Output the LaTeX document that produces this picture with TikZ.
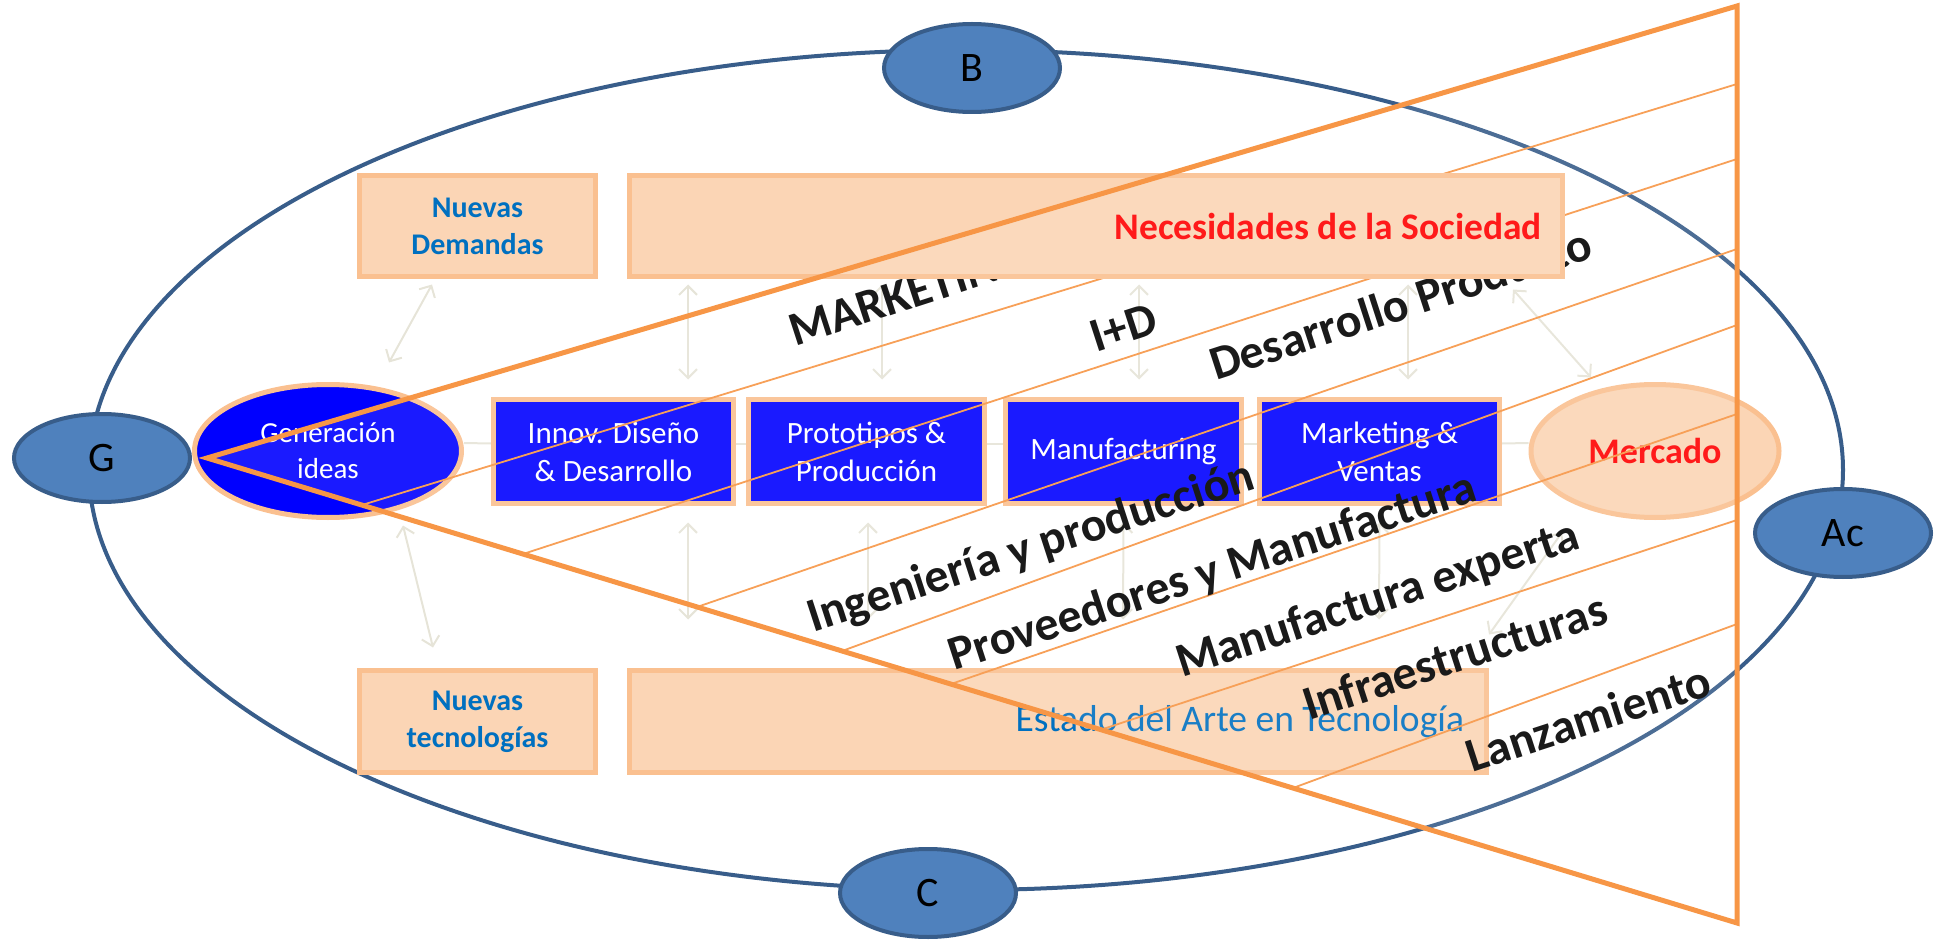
\documentclass[tikz,border=0pt]{standalone}
\usepackage{fontspec}
\setmainfont{Carlito}
\usetikzlibrary{shapes.geometric,arrows.meta,backgrounds}

\definecolor{steel}{HTML}{4F81BD}
\definecolor{steeldark}{HTML}{385D8A}
\definecolor{conecol}{HTML}{F79646}
\definecolor{peach}{HTML}{FBD5B5}
\definecolor{peachline}{HTML}{FAC090}
\definecolor{textblue}{HTML}{0070C0}
\definecolor{linkgray}{HTML}{E6E4D8}
\newcommand{\fsize}[2]{\fontsize{#1}{#2}\selectfont}

\begin{document}
\begin{tikzpicture}[x=1pt,y=-1pt,
		actor/.style={ellipse,draw=steeldark,line width=4pt,fill=steel,minimum width=176pt,minimum height=88pt,inner sep=0pt,font=\fsize{42}{50}},
		pbox/.style={draw=peachline,line width=5pt,fill=peach,inner sep=0pt,align=center},
		proc/.style={draw=peachline,line width=5pt,fill=blue,text=white,minimum height=104pt,inner sep=0pt,align=center,font=\fsize{31}{38}},
		link/.style={draw=linkgray,line width=2pt,{Straight Barb[length=9pt,width=18pt]}-{Straight Barb[length=9pt,width=18pt]}},
		flow/.style={draw=linkgray,line width=2pt},
		band/.style={draw=conecol,line width=1.8pt},
		stage/.style={rotate=18,anchor=base west,inner sep=0pt,font=\bfseries\fsize{48}{52}}]
		\useasboundingbox (0,0) rectangle (1939,941);
		% outer cycle
		\draw[steeldark,line width=4pt] (966,470) ellipse [x radius=877pt,y radius=420pt];
		\coordinate (apex) at (207,458);
		\coordinate (ctop) at (1737,6);
		\coordinate (cbot) at (1737,923);
		% lower boxes
		\node[pbox,minimum width=236pt,minimum height=102pt,font=\bfseries\fsize{30}{37},text=textblue] (nt) at (477.5,721.5) {Nuevas\\tecnologías};
		\node[pbox,minimum width=857pt,minimum height=102pt,font=\fsize{37.5}{40},text=textblue] (est) at (1058,721.5) {\makebox[812pt][r]{Estado del Arte en Tecnología}};
		% process chain
		\node[ellipse,draw=peachline,line width=5pt,fill=blue,text=white,minimum width=267pt,minimum height=133pt,inner sep=0pt,align=center,font=\fsize{29}{36}] (gen) at (328,451) {Generación\\ideas};
		\node[proc,minimum width=240pt] (innov) at (613.5,451.5) {Innov. Diseño\\\& Desarrollo};
		\node[proc,minimum width=236pt] (proto) at (866.5,451.5) {Prototipos \&\\Producción};
		\node[proc,minimum width=236pt] (manuf) at (1123.5,451.5) {Manufacturing};
		\node[proc,minimum width=240pt] (mkt) at (1379.5,451.5) {Marketing \&\\Ventas};
		\node[ellipse,draw=peachline,line width=5pt,fill=peach,text=red,minimum width=248pt,minimum height=133pt,inner sep=0pt,font=\bfseries\fsize{36}{40}] (mer) at (1655,451) {Mercado};
		% bands of the cone
		\foreach \sx/\sy/\ey in {362/505/84,523/554/159,697/607/249,842/651/325,951/684/414,1100/730/520,1293/788/624}
			\draw[band] (\sx,\sy) -- (1737,\ey);
		\node[stage] (mkting) at (795,347) {MARKETING};
		\node[stage] (imasd) at (1096,353) {I+D};
		\node[stage] (desprod) at (1216,381) {Desarrollo Producto};
		\node[stage] (ingprod) at (813,633) {Ingeniería y producción};
		\node[stage] (provman) at (954,671) {Proveedores y Manufactura};
		\node[stage] (manexp) at (1182,678) {Manufactura experta};
		\node[stage] (infra) at (1309,721) {Infraestructuras};
		\node[stage] (lanz) at (1472,773) {Lanzamiento};
		% upper boxes
		\node[pbox,minimum width=236pt,minimum height=101pt,font=\bfseries\fsize{30}{37},text=textblue] (nd) at (477.5,226) {Nuevas\\Demandas};
		\node[pbox,minimum width=933pt,minimum height=101pt,font=\bfseries\fsize{37.5}{40},text=red] (nec) at (1096,226) {\makebox[892pt][r]{Necesidades de la Sociedad}};
		% faint links
		\begin{scope}[on background layer]
			\draw[link] ([xshift=-45.5pt,yshift=-5.5pt]nd.south) -- ([xshift=61pt,yshift=19.5pt]gen.north);
			\draw[link] ([xshift=-408pt,yshift=-5.5pt]nec.south) -- ([xshift=74.5pt,yshift=17.5pt]innov.north);
			\draw[link] ([xshift=-214pt,yshift=-5.5pt]nec.south) -- ([xshift=15.5pt,yshift=17.5pt]proto.north);
			\draw[link] ([xshift=43pt,yshift=-5.5pt]nec.south) -- ([xshift=15.5pt,yshift=17.5pt]manuf.north);
			\draw[link] ([xshift=312pt,yshift=-5.5pt]nec.south) -- ([xshift=28.5pt,yshift=17.5pt]mkt.north);
			\draw[link] ([xshift=417pt,yshift=-10.5pt]nec.south) -- ([xshift=-64pt,yshift=4.5pt]mer.north);
			\draw[link] ([xshift=75pt,yshift=-5.5pt]gen.south) -- ([xshift=-44.5pt,yshift=20.5pt]nt.north);
			\draw[link] ([xshift=74.5pt,yshift=-16.5pt]innov.south) -- ([xshift=-370pt,yshift=48.5pt]est.north);
			\draw[link] ([xshift=1.5pt,yshift=-16.5pt]proto.south) -- ([xshift=-190pt,yshift=48.5pt]est.north);
			\draw[link] ([yshift=-16.5pt]manuf.south) -- ([xshift=65pt,yshift=48.5pt]est.north);
			\draw[link] ([yshift=-16.5pt]mkt.south) -- ([xshift=321pt,yshift=48.5pt]est.north);
			\draw[link] ([xshift=-93pt,yshift=-12.5pt]mer.south) -- ([xshift=431pt,yshift=33.5pt]est.north);
			\foreach \a/\b in {gen/innov,innov/proto,proto/manuf,manuf/mkt,mkt/mer}
				\draw[flow] ([yshift=8pt]\a.east) -- ([yshift=8pt]\b.west);
		\end{scope}
		% the cone
		\fill[white,opacity=0.1] (apex) -- (ctop) -- (cbot) -- cycle;
		\draw[conecol,line width=5pt] (apex) -- (ctop) -- (cbot) -- cycle;
		% actors on the cycle
		\node[actor] (g) at (102,458) {G};
		\node[actor] (b) at (972,68) {B};
		\node[actor] (c) at (928,893) {C};
		\node[actor] (ac) at (1843,533) {Ac};
\end{tikzpicture}
\end{document}
